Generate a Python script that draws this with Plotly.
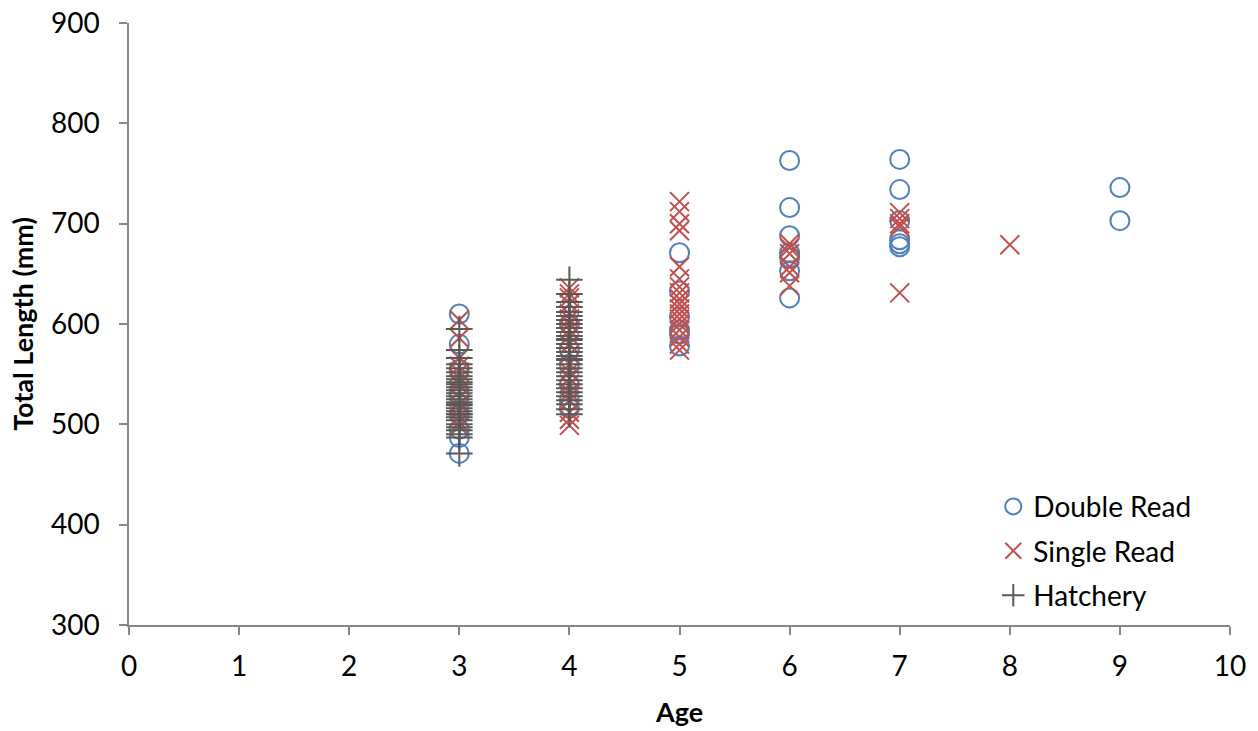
import plotly.graph_objects as go

# Age (years) and total length (mm) for each reading group
double_age = [3, 3, 3, 3, 3, 3, 3, 3,
              4, 4, 4, 4, 4, 4,
              5, 5, 5, 5, 5, 5,
              6, 6, 6, 6, 6, 6, 6,
              7, 7, 7, 7, 7, 7,
              9, 9]
double_len = [610, 580, 555, 530, 510, 495, 487, 471,
              600, 575, 560, 540, 524, 516,
              671, 633, 607, 594, 590, 578,
              763, 716, 688, 671, 666, 653, 626,
              764, 734, 703, 684, 680, 677,
              736, 703]

single_age = [3] * 14 + [4] * 20 + [5] * 18 + [6] * 6 + [7] * 5 + [8]
single_len = [604, 586, 566, 558, 552, 546, 540, 533, 527, 520, 513, 507, 502, 498,
              636, 630, 626, 620, 610, 605, 600, 594, 588, 580, 570, 560, 552, 546,
              540, 532, 524, 512, 505, 499,
              722, 712, 700, 693, 657, 645, 637, 631, 625, 620, 615, 610, 605, 600,
              594, 587, 580, 574,
              680, 676, 670, 657, 651, 638,
              711, 705, 700, 697, 631,
              679]

hatch_age = [3] * 30 + [4] * 32
hatch_len = [595, 574, 566, 560, 556, 552, 548, 545, 542, 540, 537, 534, 531, 528,
             525, 522, 519, 516, 513, 510, 507, 504, 500, 497, 494, 490, 487, 510,
             520, 471,
             644, 630, 622, 617, 612, 608, 604, 600, 596, 592, 588, 584, 580, 576,
             572, 568, 564, 560, 556, 552, 548, 544, 540, 536, 532, 528, 524, 520,
             515, 510, 565, 585]

x_ticks = list(range(0, 11))
y_ticks = list(range(300, 901, 100))

FONT = "Lato"
AXIS_COLOR = "#868686"

fig = go.Figure()
fig.add_trace(go.Scatter(
    x=double_age, y=double_len, mode="markers", name="Double Read",
    legendgroup="a",
    marker=dict(symbol="circle-open", size=19, color="#4F81BD",
                line=dict(width=2, color="#4F81BD")),
))
fig.add_trace(go.Scatter(
    x=single_age, y=single_len, mode="markers", name="Single Read",
    legendgroup="b",
    marker=dict(symbol="x-thin-open", size=19, color="#C0504D",
                line=dict(width=2, color="#C0504D")),
))
fig.add_trace(go.Scatter(
    x=hatch_age, y=hatch_len, mode="markers", name="Hatchery",
    legendgroup="c",
    marker=dict(symbol="cross-thin-open", size=19, color="#595959",
                line=dict(width=2, color="#595959")),
))

fig.update_layout(
    width=1258, height=731,
    margin=dict(l=129, r=28, t=23, b=106),
    plot_bgcolor="white", paper_bgcolor="white",
    font=dict(family=FONT, size=28, color="black"),
    showlegend=True,
    legend=dict(x=0.785, y=0.238, xanchor="left", yanchor="top",
                bgcolor="rgba(0,0,0,0)", tracegroupgap=5,
                font=dict(family=FONT, size=28, color="black"),
                itemwidth=30),
    xaxis=dict(
        range=[0, 10], tickvals=x_ticks, ticktext=[str(v) for v in x_ticks],
        showgrid=False, zeroline=False, showline=True, linecolor=AXIS_COLOR,
        linewidth=1.5, ticks="outside", ticklen=8, tickcolor=AXIS_COLOR,
        tickwidth=1.5, tickfont=dict(size=28), ticklabelstandoff=8,
        automargin=False,
        title=dict(text="<b>Age</b>", font=dict(size=27), standoff=22),
    ),
    yaxis=dict(
        range=[300, 900], tickvals=y_ticks, ticktext=[str(v) for v in y_ticks],
        showgrid=False, zeroline=False, showline=True, linecolor=AXIS_COLOR,
        linewidth=1.5, ticks="outside", ticklen=8, tickcolor=AXIS_COLOR,
        tickwidth=1.5, tickfont=dict(size=28), ticklabelstandoff=14,
        automargin=False,
        title=dict(text="<b>Total Length (mm)</b>", font=dict(size=27), standoff=9),
    ),
)

fig.write_html("out.html")
